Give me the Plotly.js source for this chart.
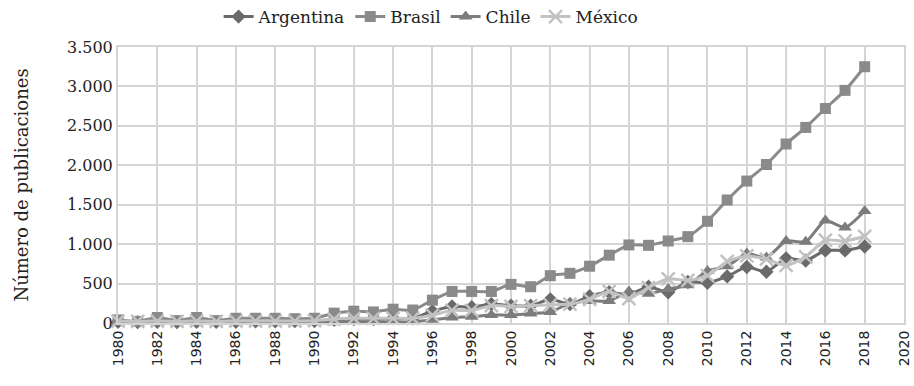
<!DOCTYPE html>
<html>
<head>
<meta charset="utf-8">
<script src="https://cdn.plot.ly/plotly-3.0.1.min.js"></script>
<style>html,body{margin:0;padding:0;background:#fff;}#chart{width:914px;height:386px;}</style>
</head>
<body>
<div id="chart"></div>
<script>
const years = [];
for (let y = 1980; y <= 2018; y++) years.push(y);
const tickYears = [1980,1982,1984,1986,1988,1990,1992,1994,1996,1998,2000,2002,2004,2006,2008,2010,2012,2014,2016,2018,2020];

const argentina = [15,10,15,10,15,15,15,20,20,25,25,40,50,50,60,60,150,210,200,240,220,220,300,240,340,390,360,460,390,520,510,590,710,650,820,790,920,920,970];
const brasil    = [40,20,70,30,70,30,60,60,60,55,60,125,150,140,175,165,290,400,400,400,490,460,600,630,720,860,990,985,1040,1095,1290,1560,1800,2010,2270,2480,2720,2950,3250];
const chile     = [5,0,0,5,5,5,5,5,5,5,10,10,15,15,15,15,40,70,80,100,100,120,140,250,280,280,400,370,430,480,660,720,880,830,1040,1030,1300,1210,1420];
const mexico    = [25,20,25,20,25,20,25,25,25,25,30,50,60,60,60,60,100,160,160,220,210,220,230,240,300,400,310,450,560,540,600,780,850,810,730,840,1050,1040,1100];

const seriesNames = ["Argentina","Brasil","Chile","México"];

const serif = "DejaVu Serif, Liberation Serif, serif";

function tr(name, ys, color, symbol, size, extraMarker) {
  return {
    x: years, y: ys, name: name, type: "scatter", mode: "lines+markers",
    line: {color: color, width: 3, shape: "spline", smoothing: 0.6},
    marker: Object.assign({symbol: symbol, size: size, color: color}, extraMarker || {}),
    cliponaxis: false
  };
}

const data = [
  tr(seriesNames[0], argentina, "#6a6a6a", "diamond", 11),
  tr(seriesNames[1], brasil, "#8a8a8a", "square", 11),
  tr(seriesNames[2], chile, "#7c7c7c", "triangle-up", 12),
  tr(seriesNames[3], mexico, "#c2c2c2", "x-thin", 13, {line: {color: "#c2c2c2", width: 2.5}})
];

const layout = {
  width: 914, height: 386,
  margin: {l: 118, r: 10, t: 47, b: 63},
  paper_bgcolor: "#fff", plot_bgcolor: "#fff",
  separators: ",.",
  showlegend: true,
  legend: {orientation: "h", x: 0.128, xanchor: "left", y: 0.956, yanchor: "middle",
           yref: "container", font: {family: serif, size: 17, color: "#222"},
           itemwidth: 30, traceorder: "normal", tracegroupgap: 0},
  xaxis: {range: [1979.999, 2020.001], tickmode: "array", tickvals: tickYears, ticktext: tickYears.map(String),
          tickangle: -90, ticklabeloverflow: "allow",
          showgrid: true, gridcolor: "#d4d4d4", gridwidth: 2,
          showline: true, linecolor: "#d4d4d4", linewidth: 2, mirror: true,
          zeroline: false, ticks: "",
          tickfont: {family: "DejaVu Sans, sans-serif", size: 14, color: "#222"}},
  yaxis: {range: [0, 3500], dtick: 500, tickformat: ",d",
          showgrid: true, gridcolor: "#d4d4d4", gridwidth: 2,
          showline: true, linecolor: "#d4d4d4", linewidth: 2, mirror: true,
          zeroline: false, ticks: "", ticklen: 0,
          tickfont: {family: serif, size: 16, color: "#222"},
          title: {text: "Número de publicaciones", font: {family: serif, size: 18, color: "#222"}, standoff: 34}}
};

Plotly.newPlot("chart", data, layout, {displayModeBar: false, staticPlot: true});
</script>
</body>
</html>
